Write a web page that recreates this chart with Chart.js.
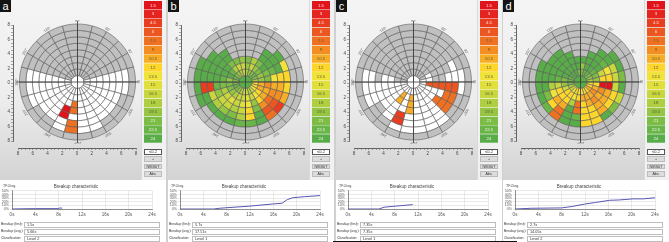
<!DOCTYPE html>
<html><head><meta charset="utf-8">
<script src="https://cdn.jsdelivr.net/npm/chart.js@4.4.0/dist/chart.umd.min.js"></script>
<style>
html,body{margin:0;padding:0;background:#fff;}
#root{position:relative;width:669px;height:242px;overflow:hidden;font-family:"Liberation Sans","DejaVu Sans",Arial,sans-serif;}
#root div{position:absolute;box-sizing:border-box;}
canvas{position:absolute;}
</style></head><body><div id="root"></div>
<script>
const G = -1, W = 0; // G = not evaluated (grey), W = no breakup (white)

const panelLetters = ['a', 'b', 'c', 'd'];
const scaleLevels = [1.5, 3, 4.5, 6, 7.5, 9, 10.5, 12, 13.5, 15, 16.5, 18, 19.5, 21, 22.5, 24];
const scaleColors = ['#e2141b', '#e52420', '#e83d1f', '#ec5620', '#f07021', '#f48e23', '#f8ad26', '#fcd62b',
                     '#f2e33a', '#e0df3c', '#c9d73e', '#b0cf40', '#96c543', '#7ebd45', '#6ab547', '#58ad48'];
const degreeLabels = [0, 30, 60, 90, 120, 150, 180, 210, 240, 270, 300, 330];
const axisRange = [-8, 8];
const sectorAngles = [15,15,15,15,15,15,15,15,15,15,15,15,15,15,15,15,15,15,15,15,15,15,15,15];
const timeTicks = [0, 24];
const percentTicks = [0, 50];

// cell maps: ring 1 (inner) .. ring 8 (outer); each ring = 24 sectors clockwise from 12 o'clock
const centerA = W;
const cellsA = [
 [G,G,G,G,G,W, W,W,W,W,W,W, W,W,W,W,W,W, W,G,G,G,G,G],
 [G,G,G,G,G,W, W,W,W,W,W,W, W,W,W,W,W,W, W,G,G,G,G,G],
 [G,G,G,G,G,W, W,W,W,W,W,W, 7.5,W,W,W,W,W, W,G,G,G,G,G],
 [G,G,G,G,G,W, W,W,W,W,W,W, 7.5,1.5,W,W,W,W, W,G,G,G,G,G],
 [G,G,G,G,G,W, W,W,W,W,W,W, W,1.5,W,W,W,W, W,G,G,G,G,G],
 [G,G,G,G,G,W, W,W,W,W,W,W, 7.5,W,W,W,W,W, W,G,G,G,G,G],
 [G,G,G,G,G,W, W,G,G,G,W,W, 7.5,W,G,G,W,W, W,G,G,G,G,G],
 [G,G,G,G,G,G, G,G,G,G,G,G, G,G,G,G,G,G, G,G,G,G,G,G]
];
const centerB = 24;
const cellsB = [
 [18,19.5,21,22.5,21,18, 13.5,12,13.5,16.5,18,16.5, 16.5,18,19.5,21,22.5,22.5, 21,22.5,21,19.5,18,16.5],
 [19.5,16.5,19.5,21,19.5,19.5, 10.5,10.5,12,13.5,16.5,15, 16.5,16.5,18,19.5,21,21, 19.5,24,22.5,18,16.5,16.5],
 [21,18,21,24,21,21, 9,10.5,10.5,12,19.5,13.5, 15,16.5,15,16.5,18,21, 22.5,24,24,21,21,19.5],
 [G,G,24,24,22.5,13.5, 10.5,9,7.5,9,21,12, 16.5,18,16.5,16.5,19.5,22.5, 24,24,24,24,G,G],
 [G,G,24,24,24,12, 10.5,9,6,6,24,12, 18,21,19.5,18,16.5,4.5, 24,24,24,24,G,G],
 [G,G,G,24,13.5,12, 12,10.5,4.5,7.5,24,22.5, 22.5,24,24,24,24,4.5, 24,24,24,G,G,G],
 [G,G,G,G,G,G, G,G,G,G,G,G, G,G,G,G,24,24, 24,24,G,G,G,G],
 [G,G,G,G,G,G, G,G,G,G,G,G, G,G,G,G,G,G, G,G,G,G,G,G]
];
const centerC = W;
const cellsC = [
 [G,G,G,G,G,W, W,W,W,W,W,W, W,W,W,W,W,W, G,G,G,G,G,G],
 [G,G,G,G,W,W, 6,W,W,W,W,W, 10.5,W,10.5,W,W,W, G,G,G,G,G,G],
 [G,G,G,G,G,G, 6,W,W,W,W,W, 10.5,W,10.5,W,W,W, W,G,G,G,G,G],
 [G,G,G,G,G,G, 6,W,7.5,W,W,W, 10.5,W,W,W,W,W, W,G,G,G,G,G],
 [G,G,G,G,G,W, 6,7.5,7.5,W,W,W, W,4.5,W,W,W,W, G,G,G,G,G,G],
 [G,G,G,G,W,W, 6,7.5,7.5,W,W,W, W,4.5,W,G,W,W, W,G,G,G,G,G],
 [G,G,G,G,G,W, W,G,G,W,W,W, W,W,G,G,W,W, W,G,G,G,G,G],
 [G,G,G,G,G,G, G,G,G,G,G,G, G,G,G,G,G,G, G,G,G,G,G,G]
];
const centerD = 24;
const cellsD = [
 [21,22.5,22.5,21,19.5,18, 13.5,12,10.5,12,12,13.5, 13.5,12,13.5,16.5,18,21, 22.5,22.5,24,24,24,21],
 [19.5,24,24,22.5,21,19.5, 12,10.5,9,10.5,10.5,10.5, 12,13.5,12,12,16.5,19.5, 21,24,24,24,24,24],
 [24,24,24,24,16.5,12, 1.5,9,10.5,9,10.5,12, 7.5,18,12,12,12,16.5, 22.5,24,24,24,24,24],
 [G,24,24,22.5,13.5,12, 1.5,10.5,10.5,10.5,12,12, 7.5,24,10.5,10.5,13.5,18, 24,24,24,24,24,G],
 [G,G,24,24,16.5,16.5, 16.5,12,12,10.5,12,12, 22.5,24,7.5,12,21,24, 24,24,24,24,G,G],
 [G,G,G,24,24,21, 24,16.5,21,24,12,12, 24,24,7.5,22.5,24,24, 24,24,G,G,G,G],
 [G,G,G,G,G,G, G,G,G,G,G,G, G,G,G,G,G,G, G,G,G,G,G,G],
 [G,G,G,G,G,G, G,G,G,G,G,G, G,G,G,G,G,G, G,G,G,G,G,G]
];

// breakup characteristic curves (time s, broken-up area %)
const timesA = [0, 1.5, 4, 7.9, 8.1, 8.6];
const pctA   = [0, 0.5, 1, 1, 2.5, 2.5];
const timesB = [0, 5.8, 6.7, 12, 16, 17.5, 18.4, 19.3, 21.3, 24];
const pctB   = [0, 0, 2, 8, 14, 16, 26, 31, 34, 37];
const timesC = [0, 5.3, 6.2, 8.2, 11.1];
const pctC   = [0, 0, 5, 8, 12];
const timesD = [0, 2.8, 8, 9.8, 12.1, 13.8, 16.2, 17.9, 20.2, 22, 24];
const pctD   = [0, 2, 3, 7, 14, 18, 24, 25, 28, 28, 31];

const breakupFirst = ['1.5s', '5.7s', '7.35s', '2.7s'];
const breakupAvg = ['5.66s', '17.51s', '7.35s', '14.05s'];
const classification = ['Level 2', 'Level 1', 'Level 1', 'Level 2'];
const thresholdText = ['≤0.2', '≤0.2', '≤0.2', '≤0.2'];
const buttonTexts = ['+', 'NIKBUT', 'Abs.'];
const fieldLabels = ['Breakup (first):', 'Breakup (avg.):', 'Classification:'];

const panelCells = [cellsA, cellsB, cellsC, cellsD];
const panelCenters = [centerA, centerB, centerC, centerD];
const panelTimes = [timesA, timesB, timesC, timesD];
const panelPct = [pctA, pctB, pctC, pctD];
const panelX = [0, 168, 336, 503];

const FONT = '"Liberation Sans","DejaVu Sans",Arial,sans-serif';
Chart.defaults.font.family = FONT;
Chart.defaults.animation = false;
Chart.defaults.events = [];
Chart.defaults.responsive = false;
Chart.defaults.maintainAspectRatio = false;
Chart.defaults.plugins.legend.display = false;
Chart.defaults.plugins.tooltip.enabled = false;

const root = document.getElementById('root');
function box(x, y, w, h, css, text) {
  const d = document.createElement('div');
  d.style.left = x + 'px'; d.style.top = y + 'px'; d.style.width = w + 'px'; d.style.height = h + 'px';
  if (css) d.style.cssText += css;
  if (text !== undefined) d.textContent = text;
  root.appendChild(d);
  return d;
}
function canvasAt(x, y, w, h) {
  const c = document.createElement('canvas');
  c.width = w; c.height = h;
  c.style.left = x + 'px'; c.style.top = y + 'px'; c.style.width = w + 'px'; c.style.height = h + 'px';
  root.appendChild(c);
  return c;
}
function colorOf(v) {
  if (v === G) return '#c0c0c0';
  if (v === W) return '#ffffff';
  let best = 0;
  scaleLevels.forEach((l, i) => { if (Math.abs(l - v) < Math.abs(scaleLevels[best] - v)) best = i; });
  return scaleColors[best];
}

const polarDecor = {
  id: 'polarDecor',
  afterDatasetsDraw(chart) {
    const a = chart.getDatasetMeta(0).data[0];
    const cx = a.x, cy = a.y, R = a.outerRadius;
    const ctx = chart.ctx;
    ctx.save();
    ctx.strokeStyle = '#3a3a3a'; ctx.lineWidth = 0.8;
    ctx.beginPath();
    ctx.moveTo(cx, cy - R - 3); ctx.lineTo(cx, cy + R + 3);
    ctx.moveTo(cx - R - 3, cy); ctx.lineTo(cx + R + 3, cy);
    ctx.stroke();
    ctx.fillStyle = '#555'; ctx.font = '3.6px ' + FONT; ctx.textAlign = 'center'; ctx.textBaseline = 'middle';
    degreeLabels.forEach(d => {
      const th = d * Math.PI / 180;
      const px = cx + (R + 2.6) * Math.cos(th), py = cy - (R + 2.6) * Math.sin(th);
      ctx.save(); ctx.translate(px, py); ctx.rotate(Math.PI / 2 - th);
      ctx.fillText(d + '°', 0, 0); ctx.restore();
    });
    ctx.restore();
  }
};

const scaleLabels = {
  id: 'scaleLabels',
  afterDatasetsDraw(chart) {
    const ctx = chart.ctx;
    ctx.save();
    ctx.font = '4.3px ' + FONT; ctx.textAlign = 'center'; ctx.textBaseline = 'middle';
    chart.data.datasets.forEach((ds, i) => {
      const el = chart.getDatasetMeta(i).data[0];
      const lvl = scaleLevels[i];
      ctx.fillStyle = (lvl <= 6 || lvl >= 21) ? 'rgba(255,255,255,0.9)' : '#5a5a3a';
      ctx.fillText(String(lvl), el.x, (el.y + el.base) / 2);
    });
    ctx.restore();
  }
};

panelLetters.forEach((letter, p) => {
  const ox = panelX[p];
  // backgrounds
  box(ox, 0, 141, 180, 'background:linear-gradient(#f4f4f4 0%,#ededed 55%,#d3d3d3 100%);');
  box(ox + 141, 0, 25, 180, 'background:#f1f1f1;border-left:1px solid #dadada;');
  box(ox + 166, 0, 1.5, 242, 'background:#d0d0d0;');
  box(ox, 0, 11, 12, 'background:#141414;color:#fff;font-size:11px;line-height:12px;text-align:center;', letter);

  // polar breakup map
  const cells = panelCells[p];
  const datasets = [];
  for (let r = cells.length - 1; r >= 0; r--) {
    datasets.push({ data: sectorAngles, backgroundColor: cells[r].map(colorOf),
      borderColor: '#5a5a5a', borderWidth: 0.6 });
  }
  datasets.push({ data: [360], backgroundColor: [colorOf(panelCenters[p])], borderColor: '#5a5a5a', borderWidth: 0.6 });
  new Chart(canvasAt(ox + 15, 20, 125, 124), {
    type: 'doughnut',
    data: { labels: sectorAngles.map((_, i) => 'S' + i), datasets },
    options: { radius: 58, cutout: 0, rotation: 0, layout: { padding: 0 } },
    plugins: [polarDecor]
  });

  // vertical axis
  new Chart(canvasAt(ox, 20, 16, 126), {
    type: 'scatter', data: { datasets: [] },
    options: {
      layout: { padding: { top: 5, bottom: 5, left: 0, right: 0 } },
      scales: {
        x: { display: false, min: axisRange[0], max: axisRange[1] },
        y: { min: axisRange[0], max: axisRange[1], afterFit(s) { s.width = 13; },
             border: { color: '#444', width: 0.8 },
             grid: { drawOnChartArea: false, tickLength: 2, color: '#555', lineWidth: 0.5 },
             ticks: { stepSize: 0.5, autoSkip: false, padding: 1, color: '#444', font: { size: 4.5 },
                      callback: v => (v % 2 === 0 ? String(Math.abs(v)) : '') } }
      }
    }
  });
  // horizontal axis
  new Chart(canvasAt(ox + 12, 144, 130, 14), {
    type: 'scatter', data: { datasets: [] },
    options: {
      layout: { padding: { top: 0, bottom: 0, left: 6, right: 6 } },
      scales: {
        y: { display: false, min: axisRange[0], max: axisRange[1] },
        x: { min: axisRange[0], max: axisRange[1], afterFit(s) { s.height = 10; },
             border: { color: '#444', width: 0.8 },
             grid: { drawOnChartArea: false, tickLength: 2, color: '#555', lineWidth: 0.5 },
             ticks: { stepSize: 0.5, autoSkip: false, padding: 1, maxRotation: 0, color: '#444', font: { size: 4.5 },
                      callback: v => (v % 2 === 0 ? String(Math.abs(v)) : '') } }
      }
    }
  });

  // colour scale
  new Chart(canvasAt(ox + 144, 1, 18, 142), {
    type: 'bar',
    data: { labels: [''], datasets: scaleLevels.map((l, i) => ({
      data: [l - (i ? scaleLevels[i - 1] : 0)], backgroundColor: scaleColors[i],
      borderColor: 'rgba(255,255,255,0.55)', borderWidth: { top: 0.6, bottom: 0.6, left: 0, right: 0 },
      barPercentage: 1, categoryPercentage: 1 })) },
    options: {
      layout: { padding: 0 },
      scales: { x: { display: false, stacked: true },
                y: { display: false, stacked: true, min: 0, max: scaleLevels[scaleLevels.length - 1], reverse: true } }
    },
    plugins: [scaleLabels]
  });
  box(ox + 144, 149, 18, 5.5, 'background:#fff;border:0.6px solid #555;font-size:4px;line-height:4.5px;text-align:center;color:#333;', thresholdText[p]);
  buttonTexts.forEach((t, i) => {
    box(ox + 144, 156 + i * 7.5, 18, 5.5, 'background:#dcdcdc;border:0.6px solid #bcbcbc;font-size:3.6px;line-height:4.5px;text-align:center;color:#333;', t);
  });

  // bottom part
  box(ox, 180, 166, 62, 'background:#fff;');
  const ts = panelTimes[p], ps = panelPct[p];
  new Chart(canvasAt(ox, 183, 162, 33), {
    type: 'line',
    data: { datasets: [{ data: ts.map((t, i) => ({ x: t, y: ps[i] })), borderColor: '#5757b3', borderWidth: 1,
                          pointRadius: 0, tension: 0, fill: false }] },
    options: {
      layout: { padding: { left: 0, right: 10, top: 0, bottom: 0 } },
      plugins: { title: { display: true, text: 'Breakup characteristic', color: '#444',
                          font: { size: 4.5, weight: 'normal' }, padding: { top: 1.5, bottom: 1 } } },
      scales: {
        x: { type: 'linear', min: timeTicks[0], max: timeTicks[1], afterFit(s) { s.height = 7; },
             border: { color: '#777', width: 0.8 },
             grid: { color: '#dadada', lineWidth: 0.6, tickLength: 2 },
             ticks: { stepSize: 4, autoSkip: false, padding: 1, maxRotation: 0, color: '#555', font: { size: 4.5 }, callback: v => v + 's' } },
        y: { min: percentTicks[0], max: percentTicks[1], afterFit(s) { s.width = 12; },
             border: { color: '#777', width: 0.8 },
             grid: { color: '#dadada', lineWidth: 0.6, tickLength: 2 },
             ticks: { stepSize: 10, autoSkip: false, padding: 1, color: '#555', font: { size: 3.6 }, callback: v => v + '%' } }
      }
    }
  });
  box(ox + 3, 183.5, 20, 4.5, 'font-size:3.6px;line-height:4.5px;color:#444;', 'TF-Deg.');
  const values = [breakupFirst[p], breakupAvg[p], classification[p]];
  fieldLabels.forEach((lab, i) => {
    const y = 222 + i * 7;
    box(ox + 1, y, 23, 5.5, 'font-size:3.3px;line-height:5.5px;color:#333;white-space:nowrap;', lab);
    box(ox + 24, y, 136, 5.5, 'background:#fff;border:0.6px solid #bdbdbd;font-size:3.8px;line-height:4.5px;color:#333;padding-left:2px;', values[i]);
  });
});
box(333, 240.5, 184, 1.5, 'background:#111;');
</script>
</body></html>
